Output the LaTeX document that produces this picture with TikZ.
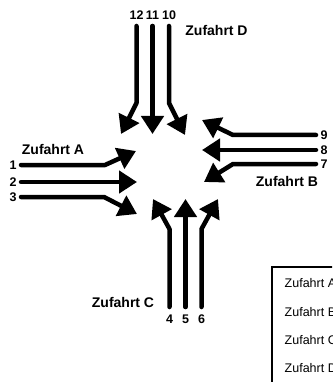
\documentclass[tikz,border=0pt]{standalone}
\usepackage{fontspec}
\setmainfont{Liberation Sans}
\usetikzlibrary{arrows.meta}
\tikzset{
  lane/.style={line width=4.5pt, line cap=round, line join=round, -{Triangle[length=18pt,width=22pt]}},
  big/.style={font=\fontsize{14}{16}\selectfont\bfseries, inner sep=0pt},
  num/.style={font=\fontsize{12.5}{14}\selectfont\bfseries, inner sep=0pt},
  leg/.style={font=\fontsize{12.5}{14}\selectfont, inner sep=0pt, anchor=west},
}
\begin{document}
\begin{tikzpicture}[x=1pt,y=-1pt]
\useasboundingbox (0,0) rectangle (332,382);
% Zufahrt A
\coordinate (a1s) at (21,165); \coordinate (a1b) at (105,165); \coordinate (a1t) at (136,151);
\coordinate (a2s) at (21,182); \coordinate (a2t) at (137,182);
\coordinate (a3s) at (21,197); \coordinate (a3b) at (104,197); \coordinate (a3t) at (137,214);
\draw[lane] (a1s) -- (a1b) -- (a1t);
\draw[lane] (a2s) -- (a2t);
\draw[lane] (a3s) -- (a3b) -- (a3t);
\node[num] (n1) at (13,165) {1};
\node[num] (n2) at (13,182) {2};
\node[num] (n3) at (13,197) {3};
\node[big] (za) at (53,149) {Zufahrt A};
% Zufahrt B
\coordinate (b9s) at (316,135); \coordinate (b9b) at (233,135); \coordinate (b9t) at (202,120);
\coordinate (b8s) at (316,150); \coordinate (b8t) at (202,150);
\coordinate (b7s) at (316,164); \coordinate (b7b) at (233,164); \coordinate (b7t) at (204,182);
\draw[lane] (b9s) -- (b9b) -- (b9t);
\draw[lane] (b8s) -- (b8t);
\draw[lane] (b7s) -- (b7b) -- (b7t);
\node[num] (n9) at (324,135) {9};
\node[num] (n8) at (324,150) {8};
\node[num] (n7) at (324,164) {7};
\node[big] (zb) at (287,181) {Zufahrt B};
% Zufahrt C
\coordinate (c4s) at (169.5,307); \coordinate (c4b) at (169.5,229); \coordinate (c4t) at (153,199);
\coordinate (c5s) at (185.5,307); \coordinate (c5t) at (185.5,199);
\coordinate (c6s) at (201.5,307); \coordinate (c6b) at (201.5,229); \coordinate (c6t) at (218,199);
\draw[lane] (c4s) -- (c4b) -- (c4t);
\draw[lane] (c5s) -- (c5t);
\draw[lane] (c6s) -- (c6b) -- (c6t);
\node[num] (n4) at (169.5,319) {4};
\node[num] (n5) at (185.5,319) {5};
\node[num] (n6) at (201.5,319) {6};
\node[big] (zc) at (123,302) {Zufahrt C};
% Zufahrt D
\coordinate (d12s) at (136.5,26); \coordinate (d12b) at (136.5,103); \coordinate (d12t) at (121,134);
\coordinate (d11s) at (152.5,26); \coordinate (d11t) at (152.5,134);
\coordinate (d10s) at (169,26); \coordinate (d10b) at (169,103); \coordinate (d10t) at (185,135);
\draw[lane] (d12s) -- (d12b) -- (d12t);
\draw[lane] (d11s) -- (d11t);
\draw[lane] (d10s) -- (d10b) -- (d10t);
\node[num] (n12) at (136.5,15) {12};
\node[num] (n11) at (152.5,15) {11};
\node[num] (n10) at (169,15) {10};
\node[big] (zd) at (216.5,30) {Zufahrt D};
% legend box
\begin{scope}
\clip (0,0) rectangle (332,382);
\draw[line width=2pt] (271.5,400) -- (271.5,266.5) -- (345,266.5);
\node[leg] (la) at (284.5,283) {Zufahrt A};
\node[leg] (lb) at (284.5,312) {Zufahrt B};
\node[leg] (lc) at (284.5,340) {Zufahrt C};
\node[leg] (ld) at (284.5,368) {Zufahrt D};
\end{scope}
\end{tikzpicture}
\end{document}
